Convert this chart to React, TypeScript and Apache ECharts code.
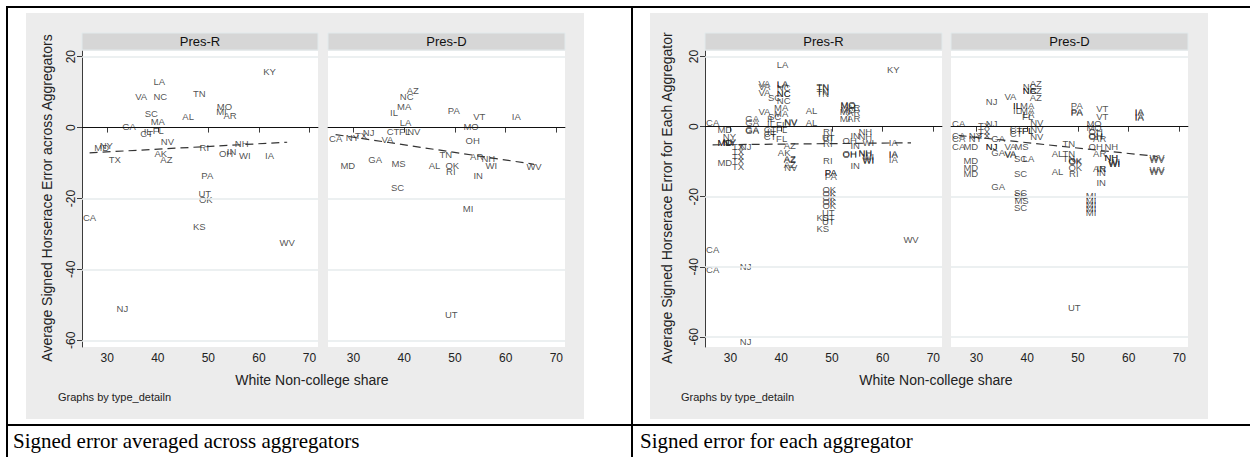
import React, { useEffect, useRef } from "react";
import * as echarts from "echarts";

// White non-college share of each state (x position of every label)
const states = ["CA", "MD", "NY", "TX", "NJ", "GA", "VA", "CT", "IL", "SC", "MS", "MA", "FL", "LA", "NC", "AK", "AZ", "NV", "AL", "KS", "TN", "RI", "UT", "OK", "PA", "MI", "MO", "OH", "AR", "IN", "VT", "NH", "WI", "IA", "KY", "WV"];
const shares = [26.5, 28.9, 29.8, 31.5, 33.0, 34.3, 36.7, 37.8, 38.0, 38.7, 38.9, 40.0, 40.1, 40.3, 40.5, 40.6, 41.7, 41.9, 46.0, 48.2, 48.2, 49.2, 49.3, 49.5, 49.8, 52.6, 53.2, 53.5, 54.3, 54.6, 54.8, 56.6, 57.2, 62.1, 62.1, 65.6];

// Signed horserace error averaged across aggregators
const avgPresR: [string, number][] = [
  ["CA", -25.5], ["MD", -5.6], ["NY", -5.0], ["TX", -8.9], ["NJ", -51.0], ["GA", 0.2], ["VA", 8.8], ["CT", -1.8],
  ["IL", -1.0], ["SC", 3.9], ["MA", 1.7], ["FL", -0.8], ["LA", 13.0], ["NC", 8.8], ["AK", -7.2], ["AZ", -9.1],
  ["NV", -3.9], ["AL", 3.0], ["KS", -27.9], ["TN", 9.6], ["RI", -5.5], ["UT", -18.5], ["OK", -20.3], ["PA", -13.4],
  ["MI", 4.4], ["MO", 5.9], ["OH", -7.4], ["AR", 3.5], ["IN", -6.8], ["NH", -4.6], ["WI", -8.0], ["IA", -7.9],
  ["KY", 15.8], ["WV", -32.5],
];
const avgPresD: [string, number][] = [
  ["AZ", 10.4], ["NC", 8.8], ["MA", 5.9], ["IL", 4.2], ["LA", 1.3], ["PA", 4.7], ["VT", 3.2], ["IA", 3.2],
  ["MO", 0.4], ["CA", -3.2], ["NY", -2.7], ["TX", -2.3], ["NJ", -1.3], ["CT", -1.2], ["FL", -1.2], ["NV", -1.2],
  ["VA", -3.4], ["OH", -3.6], ["TN", -7.5], ["AR", -8.2], ["NH", -8.7], ["WI", -10.8], ["WV", -11.0], ["MD", -10.8],
  ["GA", -8.9], ["MS", -10.1], ["AL", -10.8], ["OK", -10.6], ["RI", -12.5], ["IN", -13.4], ["SC", -16.9], ["MI", -22.8],
  ["UT", -52.8],
];

// Signed horserace error for each aggregator
const aggPresR: [string, number][] = [
  ["LA", 17.8], ["LA", 12.3], ["LA", 12.1], ["KY", 16.3],
  ["VA", 12.3], ["VA", 11.4], ["VA", 9.7], ["VA", 4.4],
  ["NC", 11.1], ["NC", 9.6], ["NC", 9.4], ["NC", 7.5],
  ["SC", 8.2], ["SC", 3.0], ["MA", 5.4], ["MA", 3.7],
  ["TN", 11.6], ["TN", 11.2], ["TN", 9.9], ["TN", 9.5],
  ["AL", 4.7], ["AL", 1.1],
  ["CA", 1.3], ["CA", -35.0], ["CA", -40.9],
  ["GA", 2.3], ["GA", 1.1], ["GA", -0.9], ["GA", -1.1],
  ["IL", 2.3], ["IL", 1.0], ["IL", -1.5],
  ["CT", -0.8], ["CT", -2.0], ["CT", -2.9],
  ["FL", 0.5], ["FL", -0.8], ["FL", -3.4],
  ["NV", 1.5], ["NV", 1.2], ["NV", -11.6],
  ["MD", -0.9], ["MD", -4.4], ["MD", -4.6], ["MD", -10.1],
  ["NY", -2.7], ["NY", -4.4], ["NY", -4.2],
  ["NJ", -5.8], ["NJ", -39.9], ["NJ", -61.2],
  ["TX", -5.8], ["TX", -7.0], ["TX", -8.5], ["TX", -9.7], ["TX", -11.3],
  ["AK", -7.3],
  ["AZ", -5.5], ["AZ", -9.2], ["AZ", -9.4], ["AZ", -10.9],
  ["MO", 6.3], ["MO", 6.1], ["MO", 5.0],
  ["MI", 4.4], ["MI", 2.3],
  ["AR", 5.6], ["AR", 4.0], ["AR", 2.3],
  ["RI", -1.5], ["RI", -3.0], ["RI", -4.9], ["RI", -9.7],
  ["UT", -3.0], ["UT", -24.5], ["UT", -25.9], ["UT", -27.0],
  ["OH", -3.9], ["OH", -7.7], ["OH", -7.9],
  ["IN", -2.5], ["IN", -5.4], ["IN", -11.1],
  ["NH", -1.5], ["NH", -2.9], ["NH", -7.4], ["NH", -7.6],
  ["WI", -4.4], ["WI", -8.6], ["WI", -9.4], ["WI", -9.6],
  ["IA", -4.4], ["IA", -7.7], ["IA", -7.9], ["IA", -9.4],
  ["PA", -13.0], ["PA", -13.2], ["PA", -14.1],
  ["OK", -17.8], ["OK", -19.0], ["OK", -20.2], ["OK", -21.3], ["OK", -22.5],
  ["KS", -25.9], ["KS", -29.0],
  ["WV", -32.1],
];
const aggPresD: [string, number][] = [
  ["AZ", 12.3], ["AZ", 10.4], ["AZ", 8.3],
  ["NC", 11.4], ["NC", 10.4], ["NC", 10.2],
  ["VA", 8.7], ["VA", -5.6], ["VA", -7.7], ["VA", -7.9],
  ["NJ", 7.1], ["NJ", 0.9], ["NJ", -5.6], ["NJ", -5.8],
  ["IL", 6.1], ["IL", 6.0], ["IL", 4.7],
  ["MA", 6.1], ["MA", 4.7],
  ["LA", 3.5], ["LA", -9.2],
  ["FL", 2.8], ["FL", -1.0], ["FL", -1.2],
  ["PA", 6.1], ["PA", 4.2], ["PA", 4.0],
  ["VT", 5.2], ["VT", 2.8],
  ["IA", 4.2], ["IA", 4.0], ["IA", 2.8], ["IA", 2.6],
  ["CA", 0.9], ["CA", -2.5], ["CA", -3.4], ["CA", -5.8],
  ["NV", 1.1], ["NV", -0.8], ["NV", -2.8],
  ["MO", 0.9], ["MO", -0.1],
  ["CT", -0.5], ["CT", -1.0], ["CT", -2.0],
  ["TX", 0.4], ["TX", -1.4], ["TX", -2.5],
  ["NY", -2.5], ["NY", -3.4],
  ["GA", -3.4], ["GA", -7.3], ["GA", -17.1],
  ["OH", -1.5], ["OH", -2.5], ["OH", -2.7], ["OH", -5.6],
  ["AR", -3.4], ["AR", -7.7], ["AR", -12.0],
  ["TN", -4.9], ["TN", -7.7], ["TN", -9.2],
  ["NH", -5.6], ["NH", -8.7], ["NH", -8.9],
  ["WI", -10.0], ["WI", -10.4], ["WI", -10.6],
  ["MD", -5.8], ["MD", -9.8], ["MD", -11.7], ["MD", -13.5],
  ["MS", -5.6], ["MS", -21.1],
  ["SC", -9.2], ["SC", -13.5], ["SC", -18.7], ["SC", -19.7], ["SC", -23.0],
  ["AL", -7.7], ["AL", -12.7],
  ["OK", -9.8], ["OK", -10.0], ["OK", -11.6],
  ["RI", -13.5],
  ["IN", -12.0], ["IN", -13.2], ["IN", -15.8],
  ["WV", -8.7], ["WV", -9.3], ["WV", -12.2], ["WV", -12.9],
  ["MI", -19.7], ["MI", -21.0], ["MI", -22.1], ["MI", -23.3], ["MI", -24.5],
  ["UT", -51.7],
];

const xTicks = [30, 40, 50, 60, 70];
const yTicks = [-60, -40, -20, 0, 20];
const gridLevels = [-60, -40, -20, 20];
const panelTitles = ["Pres-R", "Pres-D"];
const yTitles = [
  "Average Signed Horserace Error across Aggregators",
  "Average Signed Horserace Error for Each Aggregator",
];
const xTitle = "White Non-college share";
const byNote = "Graphs by type_detailn";
const captions = ["Signed error averaged across aggregators", "Signed error for each aggregator"];

const FONT = "Liberation Sans";
const LABEL_COLOR = "#1e1e1e";

// Panel geometry: [left, width] of each plot region, graph-level y range
const panelBoxes = [
  { left: 82, width: 236, yMin: -61.9 },
  { left: 328, width: 237, yMin: -61.9 },
  { left: 705, width: 237, yMin: -62.9 },
  { left: 951, width: 237, yMin: -62.9 },
];
const PLOT_TOP = 51;
const PLOT_H = 296;
const X_MIN = 25;
const X_MAX = 71.7;
const Y_MAX = 21.6;

function shareOf(state: string): number {
  return shares[states.indexOf(state)];
}

function toPoints(rows: [string, number][]) {
  return rows.map(([s, v]) => [shareOf(s), v, s]);
}

// Least-squares line over the panel's points, drawn across the data's x range
function fitLine(rows: [string, number][]) {
  const pts = rows.map(([s, v]) => [shareOf(s), v]);
  const n = pts.length;
  const mx = pts.reduce((a, p) => a + p[0], 0) / n;
  const my = pts.reduce((a, p) => a + p[1], 0) / n;
  let sxy = 0;
  let sxx = 0;
  pts.forEach(([x, y]) => {
    sxy += (x - mx) * (y - my);
    sxx += (x - mx) * (x - mx);
  });
  const b = sxy / sxx;
  const a = my - b * mx;
  const x0 = Math.min(...pts.map((p) => p[0]));
  const x1 = Math.max(...pts.map((p) => p[0]));
  return [
    [x0, a + b * x0],
    [x1, a + b * x1],
  ];
}

export default function App() {
  const ref = useRef<HTMLDivElement>(null);

  useEffect(() => {
    if (!ref.current) return;
    const chart = echarts.init(ref.current, undefined, { renderer: "svg" });
    const panels = [avgPresR, avgPresD, aggPresR, aggPresD];

    const grid = panelBoxes.map((p) => ({
      left: p.left,
      top: PLOT_TOP,
      width: p.width,
      height: PLOT_H,
      show: true,
      backgroundColor: "#fff",
      borderWidth: 0,
    }));

    const xAxis = panelBoxes.map((_, i) => ({
      gridIndex: i,
      type: "value",
      min: X_MIN,
      max: X_MAX,
      axisLine: { show: true, lineStyle: { color: "#3c3c3c", width: 1 } },
      axisTick: { show: true, length: 5, customValues: xTicks, lineStyle: { color: "#3c3c3c" } },
      axisLabel: { show: true, customValues: xTicks, fontSize: 12, color: "#222", margin: 5, fontFamily: FONT },
      splitLine: { show: false },
    }));

    const yAxis = panelBoxes.map((p, i) => {
      const first = i % 2 === 0;
      return {
        gridIndex: i,
        type: "value",
        min: p.yMin,
        max: Y_MAX,
        axisLine: { show: first, lineStyle: { color: "#3c3c3c", width: 1 } },
        axisTick: { show: first, length: 5, customValues: yTicks, lineStyle: { color: "#3c3c3c" } },
        axisLabel: {
          show: first,
          customValues: yTicks,
          rotate: 90,
          fontSize: 12,
          color: "#222",
          margin: 5,
          fontFamily: FONT,
        },
        splitLine: { show: false },
      };
    });

    const series: any[] = [];
    panels.forEach((rows, i) => {
      series.push({
        type: "scatter",
        xAxisIndex: i,
        yAxisIndex: i,
        data: toPoints(rows),
        symbolSize: 1,
        itemStyle: { color: "rgba(0,0,0,0)" },
        label: {
          show: true,
          position: "inside",
          formatter: (p: any) => p.data[2],
          fontSize: 9.5,
          color: LABEL_COLOR,
          textBorderWidth: 0,
          fontFamily: FONT,
        },
        markLine: {
          silent: true,
          symbol: "none",
          label: { show: false },
          data: [
            ...gridLevels.map((v) => ({ yAxis: v, lineStyle: { color: "#e6ebec", width: 1.5, type: "solid" } })),
            { yAxis: 0, lineStyle: { color: "#111", width: 1.2, type: "solid" } },
          ],
        },
        z: 3,
      });
      series.push({
        type: "line",
        xAxisIndex: i,
        yAxisIndex: i,
        data: fitLine(rows),
        symbol: "none",
        lineStyle: { color: "#333", width: 1.2, type: [8, 5] },
        z: 4,
      });
    });

    const graphic: any[] = [];
    // Graph regions (light gray)
    [26, 650].forEach((x) => {
      graphic.push({ type: "rect", shape: { x, y: 13, width: 558, height: 406 }, style: { fill: "#ececec" }, z: -10 });
    });
    // Panel strips
    panelBoxes.forEach((p, i) => {
      graphic.push({
        type: "rect",
        shape: { x: p.left, y: 33, width: p.width, height: 17 },
        style: { fill: "#d6d6d6", stroke: "#e2eaec", lineWidth: 1 },
        z: 5,
      });
      graphic.push({
        type: "text",
        x: p.left + p.width / 2,
        y: 41.5,
        style: {
          text: panelTitles[i % 2],
          fontSize: 13,
          fontFamily: FONT,
          fill: "#111",
          align: "center",
          verticalAlign: "middle",
        },
        z: 6,
      });
    });
    // Axis titles and notes
    [0, 1].forEach((g) => {
      const off = g === 0 ? 0 : 624;
      graphic.push({
        type: "text",
        x: 47 + off - (g === 1 ? 4 : 0),
        y: 198,
        rotation: Math.PI / 2,
        style: {
          text: yTitles[g],
          fontSize: 14,
          fontFamily: FONT,
          fill: "#222",
          align: "center",
          verticalAlign: "middle",
        },
        z: 6,
      });
      graphic.push({
        type: "text",
        x: 312 + off,
        y: 380,
        style: { text: xTitle, fontSize: 14, fontFamily: FONT, fill: "#222", align: "center", verticalAlign: "middle" },
        z: 6,
      });
      graphic.push({
        type: "text",
        x: 58 + off - (g === 1 ? 1 : 0),
        y: 397,
        style: { text: byNote, fontSize: 11, fontFamily: FONT, fill: "#222", align: "left", verticalAlign: "middle" },
        z: 6,
      });
    });
    // Table rules
    const rule = (x: number, y: number, w: number, h: number) =>
      graphic.push({ type: "rect", shape: { x, y, width: w, height: h }, style: { fill: "#000" }, z: 7 });
    rule(6, 6, 1244, 2);
    rule(6, 6, 2, 451);
    rule(631, 6, 2, 451);
    rule(6, 424, 1244, 2);
    // Captions
    graphic.push({
      type: "text",
      x: 13,
      y: 441,
      style: { text: captions[0], fontSize: 21, fontFamily: "Liberation Serif", fill: "#000", align: "left", verticalAlign: "middle" },
      z: 7,
    });
    graphic.push({
      type: "text",
      x: 640,
      y: 441,
      style: { text: captions[1], fontSize: 21, fontFamily: "Liberation Serif", fill: "#000", align: "left", verticalAlign: "middle" },
      z: 7,
    });

    chart.setOption({
      animation: false,
      backgroundColor: "#fff",
      textStyle: { fontFamily: FONT },
      grid,
      xAxis,
      yAxis,
      series,
      graphic,
    });

    return () => chart.dispose();
  }, []);

  return (
    <div
      ref={ref}
      style={{ position: "absolute", left: 0, top: 0, width: 1250, height: 457, background: "#fff" }}
    />
  );
}
